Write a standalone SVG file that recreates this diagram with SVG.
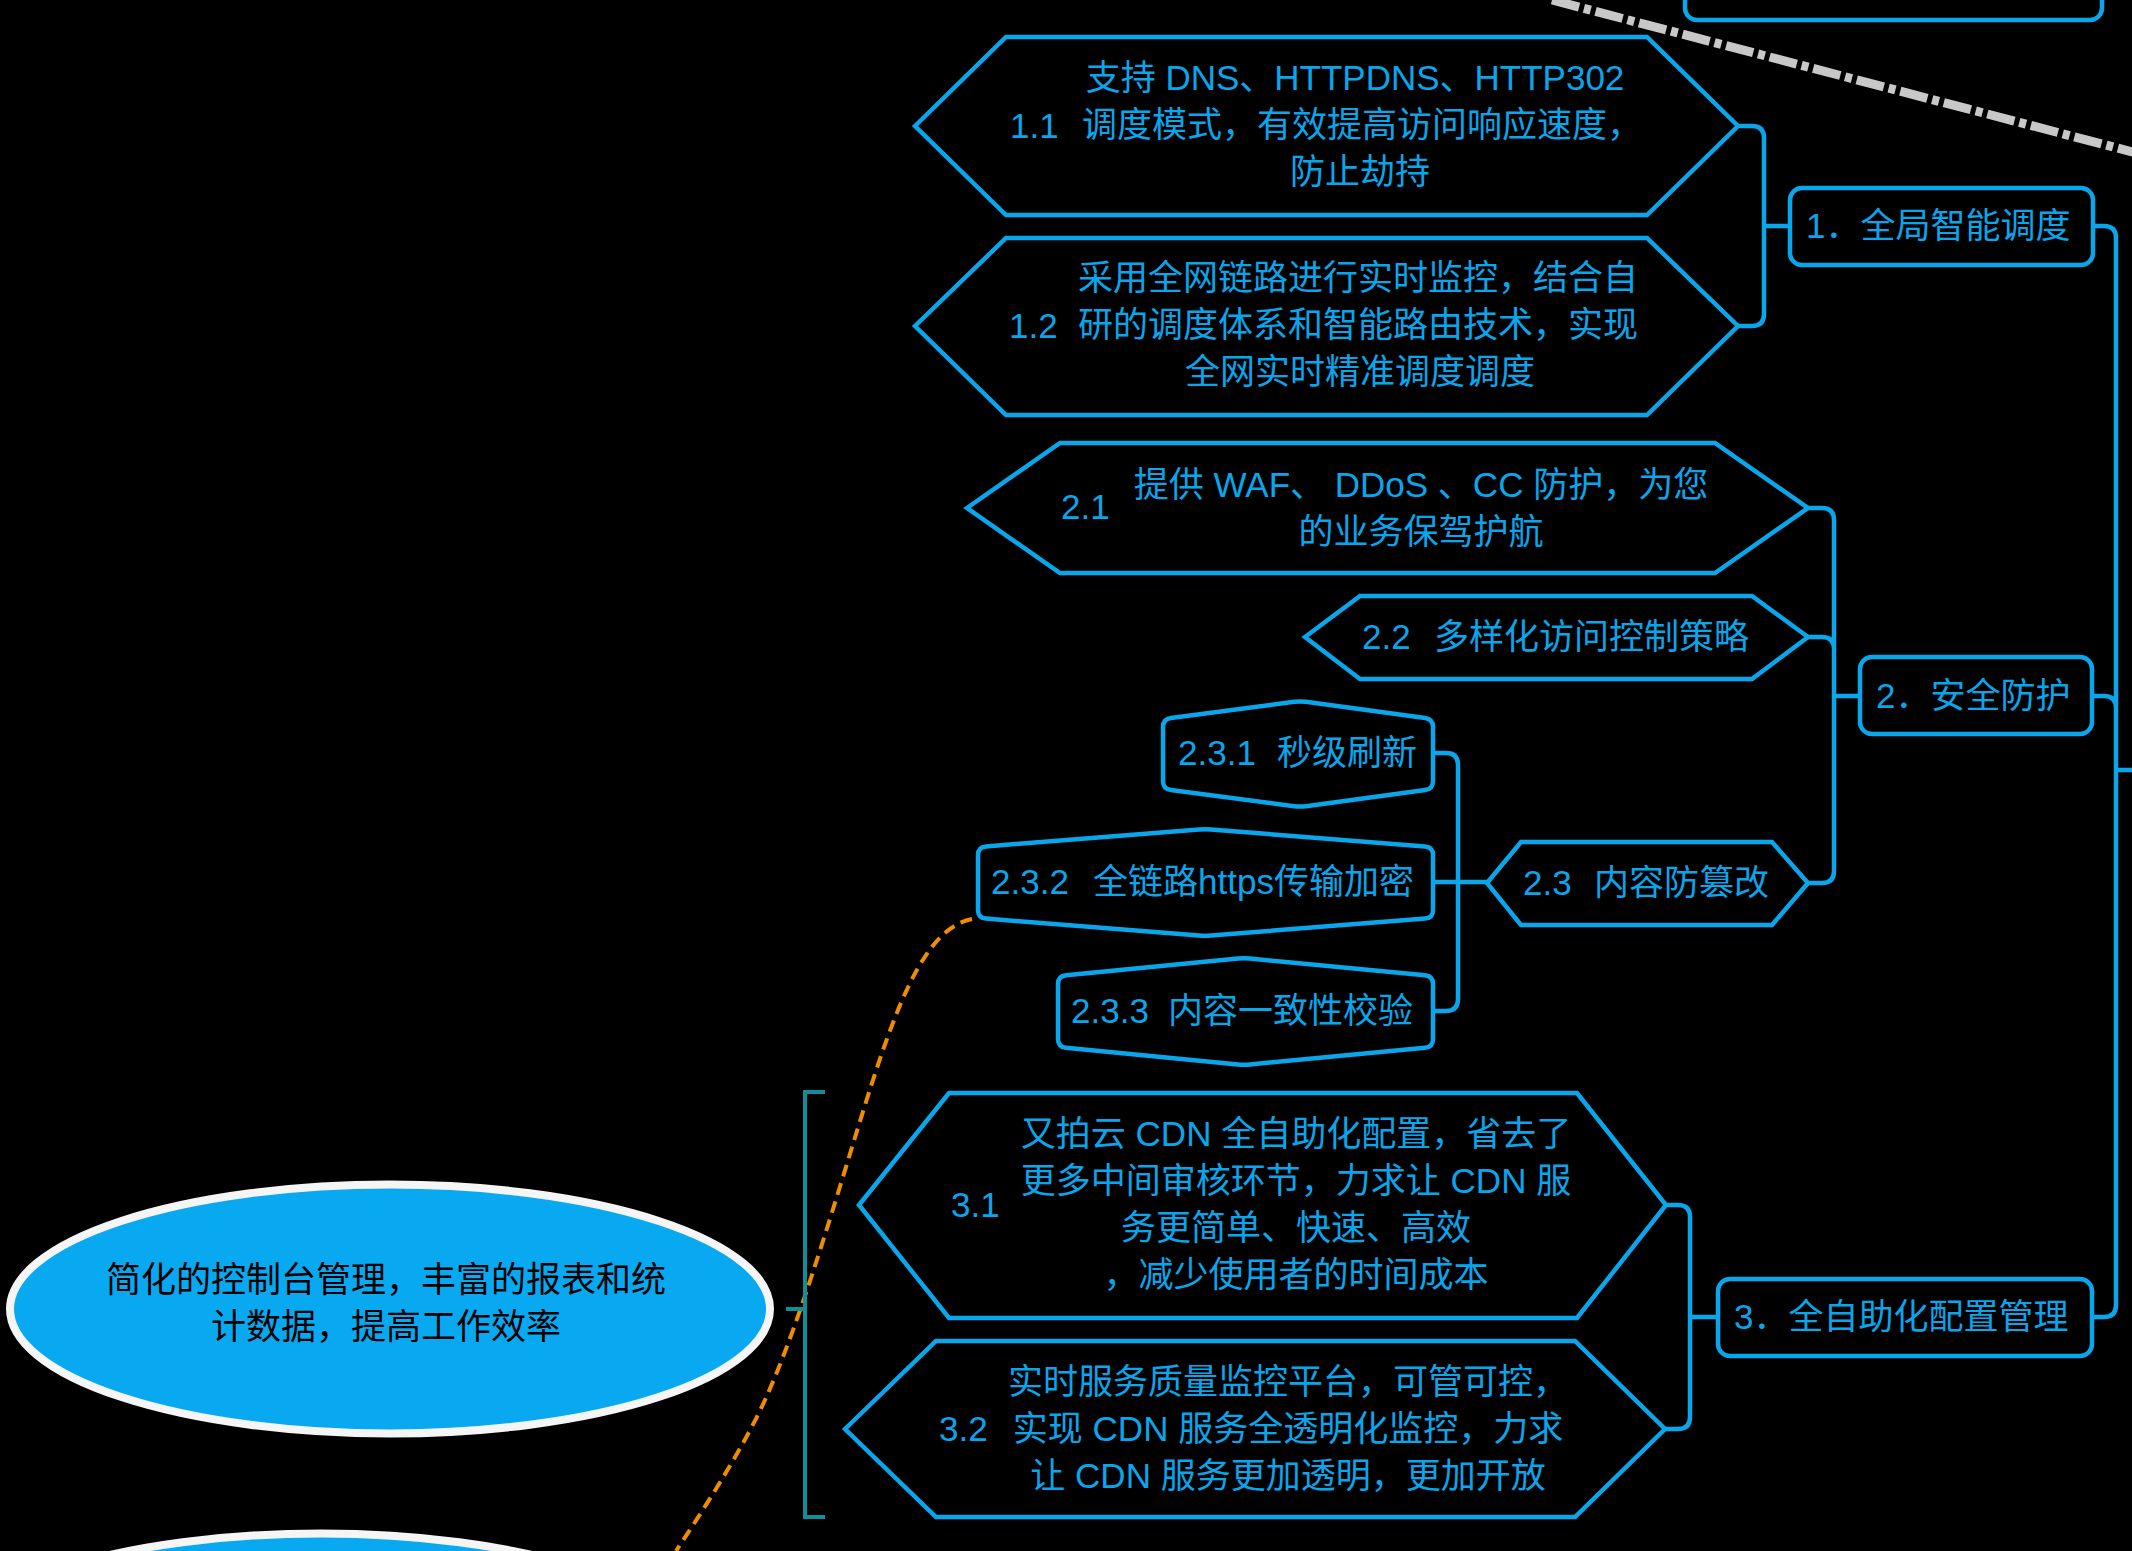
<svg xmlns="http://www.w3.org/2000/svg" width="2132" height="1551" viewBox="0 0 2132 1551">
<defs>
<style>
.shape{fill:#000;stroke:#09a6ec;stroke-width:4.5;stroke-linejoin:miter}
.rshape{fill:#000;stroke:#09a6ec;stroke-width:4.5;stroke-linejoin:round}
.t{font-family:"Liberation Sans","Noto Sans CJK SC",sans-serif;font-size:35px;fill:#09a6ec}
.m{text-anchor:middle}
.conn{fill:none;stroke:#09a6ec;stroke-width:4.5;stroke-linecap:round;stroke-linejoin:round}
.ell{fill:#08a9f1;stroke:#f5f5f5;stroke-width:8}
.et{font-family:"Liberation Sans","Noto Sans CJK SC",sans-serif;font-size:35px;fill:#000;text-anchor:middle}
</style>
</defs>
<rect x="0" y="0" width="2132" height="1551" fill="#000"/>

<g id="relations">
<line x1="1552" y1="0" x2="2140" y2="154" stroke="#c8c8c8" stroke-width="9" stroke-dasharray="28 5 7 5"/>
<path d="M972,919 C915,930 885,1040 842,1180 C815,1268 790,1345 765,1400 C745,1444 710,1500 676,1551" fill="none" stroke="#f08c00" stroke-width="4" stroke-dasharray="12 7"/>
</g>

<g id="connectors">
<path class="conn" d="M1740,126 H1752 Q1764,126 1764,138 V314 Q1764,326 1752,326 H1738 M1764,226 H1790"/>
<path class="conn" d="M1808,508 H1822 Q1834,508 1834,520 V871 Q1834,883 1822,883 H1808 M1808,637 H1822 Q1834,637 1834,649 M1834,696 H1860"/>
<path class="conn" d="M1433,753 H1446 Q1458,753 1458,765 V999 Q1458,1011 1446,1011 H1433 M1433,882 H1487"/>
<path class="conn" d="M1666,1205 H1678 Q1690,1205 1690,1217 V1417 Q1690,1429 1678,1429 H1665 M1690,1317 H1718"/>
<path class="conn" d="M2092,226 H2104 Q2116,226 2116,238 V1305 Q2116,1317 2104,1317 H2092 M2092,696 H2104 Q2116,696 2116,708 M2116,770 H2132"/>
<path d="M825,1092 H805 V1517 H825 M805,1309 H786" fill="none" stroke="#0f8f9a" stroke-width="4"/>
</g>

<g id="node-top">
<rect class="shape" x="1685" y="-60" width="417" height="80" rx="12"/>
</g>

<g id="node-1">
<rect class="shape" x="1790" y="188" width="303" height="77" rx="12"/>
<text class="t" x="1806" y="238">1．全局智能调度</text>
</g>

<g id="node-1-1">
<polygon class="shape" points="915,126 1006,37 1647,37 1738,126 1647,215 1006,215"/>
<text class="t" x="1010" y="138">1.1</text>
<text class="t m" x="1355" y="90">支持 DNS、HTTPDNS、HTTP302</text>
<text class="t m" x="1362" y="137">调度模式，有效提高访问响应速度，</text>
<text class="t m" x="1360" y="184">防止劫持</text>
</g>

<g id="node-1-2">
<polygon class="shape" points="915,326 1006,238 1647,238 1738,326 1647,415 1006,415"/>
<text class="t" x="1009" y="338">1.2</text>
<text class="t m" x="1358" y="290">采用全网链路进行实时监控，结合自</text>
<text class="t m" x="1358" y="337">研的调度体系和智能路由技术，实现</text>
<text class="t m" x="1360" y="384">全网实时精准调度调度</text>
</g>

<g id="node-2">
<rect class="shape" x="1860" y="657" width="232" height="77" rx="12"/>
<text class="t" x="1876" y="708">2．安全防护</text>
</g>

<g id="node-2-1">
<polygon class="shape" points="967,508 1060,443 1715,443 1808,508 1715,573 1060,573"/>
<text class="t" x="1061" y="519">2.1</text>
<text class="t m" x="1421" y="497">提供 WAF、 DDoS 、CC 防护，为您</text>
<text class="t m" x="1421" y="544">的业务保驾护航</text>
</g>

<g id="node-2-2">
<polygon class="shape" points="1305,637 1360,596 1752,596 1808,637 1752,679 1360,679"/>
<text class="t" y="649"><tspan x="1362">2.2</tspan><tspan x="1434">多样化访问控制策略</tspan></text>
</g>

<g id="node-2-3">
<polygon class="shape" points="1487,883 1521,842 1772,842 1808,883 1772,925 1521,925"/>
<text class="t" y="895"><tspan x="1523">2.3</tspan><tspan x="1594">内容防篡改</tspan></text>
</g>

<g id="node-2-3-1">
<path class="rshape" d="M1305.9,701.8 L1425.1,717.9 Q1433,719 1433,727 L1433,781 Q1433,789 1425.1,790.1 L1305.9,806.2 Q1300,807 1294.1,806.2 L1170.9,790 Q1163,789 1163,781 L1163,727 Q1163,719 1170.9,718 L1294.1,701.8 Q1300,701 1305.9,701.8 Z"/>
<text class="t" y="765"><tspan x="1178">2.3.1</tspan><tspan x="1277">秒级刷新</tspan></text>
</g>

<g id="node-2-3-2">
<path class="rshape" d="M1211,829.5 L1425,846.4 Q1433,847 1433,855 L1433,910 Q1433,918 1425,918.6 L1211,935.5 Q1205,936 1199,935.5 L986,918.6 Q978,918 978,910 L978,855 Q978,847 986,846.4 L1199,829.5 Q1205,829 1211,829.5 Z"/>
<text class="t" y="894"><tspan x="991">2.3.2</tspan><tspan x="1093">全链路https传输加密</tspan></text>
</g>

<g id="node-2-3-3">
<path class="rshape" d="M1250,958.6 L1425,975.2 Q1433,976 1433,984 L1433,1039 Q1433,1047 1425,1047.8 L1250,1064.4 Q1244,1065 1238,1064.4 L1066,1047.8 Q1058,1047 1058,1039 L1058,984 Q1058,976 1066,975.2 L1238,958.6 Q1244,958 1250,958.6 Z"/>
<text class="t" y="1023"><tspan x="1071">2.3.3</tspan><tspan x="1168">内容一致性校验</tspan></text>
</g>

<g id="node-3">
<rect class="shape" x="1718" y="1279" width="374" height="77" rx="12"/>
<text class="t" x="1734" y="1329">3．全自助化配置管理</text>
</g>

<g id="node-3-1">
<polygon class="shape" points="859,1205 949,1093 1577,1093 1666,1205 1577,1318 949,1318"/>
<text class="t" x="951" y="1217">3.1</text>
<text class="t m" x="1296" y="1146">又拍云 CDN 全自助化配置，省去了</text>
<text class="t m" x="1296" y="1193">更多中间审核环节，力求让 CDN 服</text>
<text class="t m" x="1296" y="1240">务更简单、快速、高效</text>
<text class="t m" x="1296" y="1287">，减少使用者的时间成本</text>
</g>

<g id="node-3-2">
<polygon class="shape" points="845,1429 936,1341 1575,1341 1665,1429 1575,1517 936,1517"/>
<text class="t" x="939" y="1441">3.2</text>
<text class="t m" x="1288" y="1394">实时服务质量监控平台，可管可控，</text>
<text class="t m" x="1288" y="1441">实现 CDN 服务全透明化监控，力求</text>
<text class="t m" x="1288" y="1488">让 CDN 服务更加透明，更加开放</text>
</g>

<g id="node-summary">
<ellipse class="ell" cx="390" cy="1309" rx="380" ry="124.5"/>
<text class="et" x="386" y="1292">简化的控制台管理，丰富的报表和统</text>
<text class="et" x="386" y="1339">计数据，提高工作效率</text>
</g>

<g id="node-summary-2">
<ellipse class="ell" cx="321" cy="1658" rx="376" ry="124.5"/>
</g>
</svg>
